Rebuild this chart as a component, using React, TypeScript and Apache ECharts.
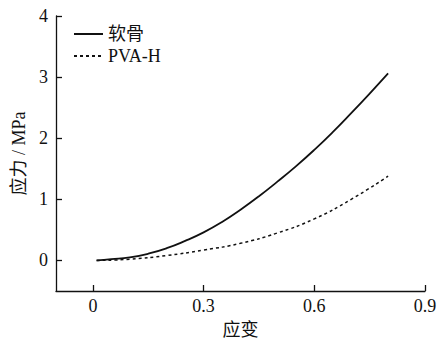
import React, { useEffect, useRef } from "react";
import * as echarts from "echarts";

const strainCartilage = [0.01, 0.05, 0.1, 0.15, 0.2, 0.25, 0.3, 0.35, 0.4, 0.45, 0.5, 0.55, 0.6, 0.65, 0.7, 0.75, 0.8];
const stressCartilage = [0, 0.02, 0.05, 0.11, 0.2, 0.32, 0.46, 0.63, 0.83, 1.05, 1.29, 1.54, 1.81, 2.1, 2.41, 2.73, 3.06];
const strainPVA = [0.01, 0.1, 0.2, 0.3, 0.4, 0.5, 0.6, 0.7, 0.8];
const stressPVA = [0, 0.02, 0.08, 0.17, 0.28, 0.45, 0.68, 1.0, 1.38];
const xTicks = [0, 0.3, 0.6, 0.9];
const yTicks = [0, 1, 2, 3, 4];
const seriesNames = ["软骨", "PVA-H"];
const xName = "应变";
const yName = "应力 / MPa";

const FONT = "'Liberation Serif', 'Noto Sans CJK SC', serif";
const INK = "#111";

export default function App() {
  const ref = useRef<HTMLDivElement>(null);
  useEffect(() => {
    if (!ref.current) return;
    const chart = echarts.init(ref.current, undefined, { renderer: "svg" });
    const axisCommon = {
      type: "value" as const,
      nameLocation: "middle" as const,
      nameTextStyle: { fontFamily: FONT, fontSize: 18, color: INK, lineHeight: 18 },
      axisLine: { show: true, onZero: false, lineStyle: { color: INK, width: 1.3 } },
      axisTick: { show: true, inside: true, length: 6, lineStyle: { color: INK, width: 1.3 } },
      axisLabel: { fontFamily: FONT, fontSize: 18, color: INK },
      splitLine: { show: false },
    };
    chart.setOption({
      animation: false,
      grid: { left: 56, right: 13, top: 16, bottom: 49, containLabel: false, outerBoundsMode: "none" },
      legend: {
        orient: "vertical",
        left: 73,
        top: 25,
        padding: 0,
        itemWidth: 29,
        itemHeight: 10,
        itemGap: 4,
        itemStyle: { opacity: 0 },
        textStyle: { fontFamily: FONT, fontSize: 18, color: INK, lineHeight: 18 },
        data: seriesNames,
      },
      xAxis: {
        ...axisCommon,
        min: -0.1,
        max: 0.9,
        name: xName,
        nameGap: 30,
        axisTick: { ...axisCommon.axisTick, customValues: xTicks },
        axisLabel: { ...axisCommon.axisLabel, margin: 6, customValues: xTicks, formatter: (v: number) => String(v) },
      },
      yAxis: {
        ...axisCommon,
        min: -0.5,
        max: 4,
        name: yName,
        nameGap: 22,
        axisTick: { ...axisCommon.axisTick, customValues: yTicks },
        axisLabel: { ...axisCommon.axisLabel, margin: 8, customValues: yTicks },
      },
      series: [
        {
          name: seriesNames[0],
          type: "line",
          smooth: true,
          symbol: "none",
          lineStyle: { color: INK, width: 1.8, type: "solid" },
          itemStyle: { color: INK },
          data: strainCartilage.map((x, i) => [x, stressCartilage[i]]),
        },
        {
          name: seriesNames[1],
          type: "line",
          smooth: true,
          symbol: "none",
          lineStyle: { color: INK, width: 1.5, type: [3, 3] },
          itemStyle: { color: INK },
          data: strainPVA.map((x, i) => [x, stressPVA[i]]),
        },
      ],
    });
    return () => chart.dispose();
  }, []);
  return <div ref={ref} style={{ width: 438, height: 340, position: "absolute", left: 0, top: 0 }} />;
}
